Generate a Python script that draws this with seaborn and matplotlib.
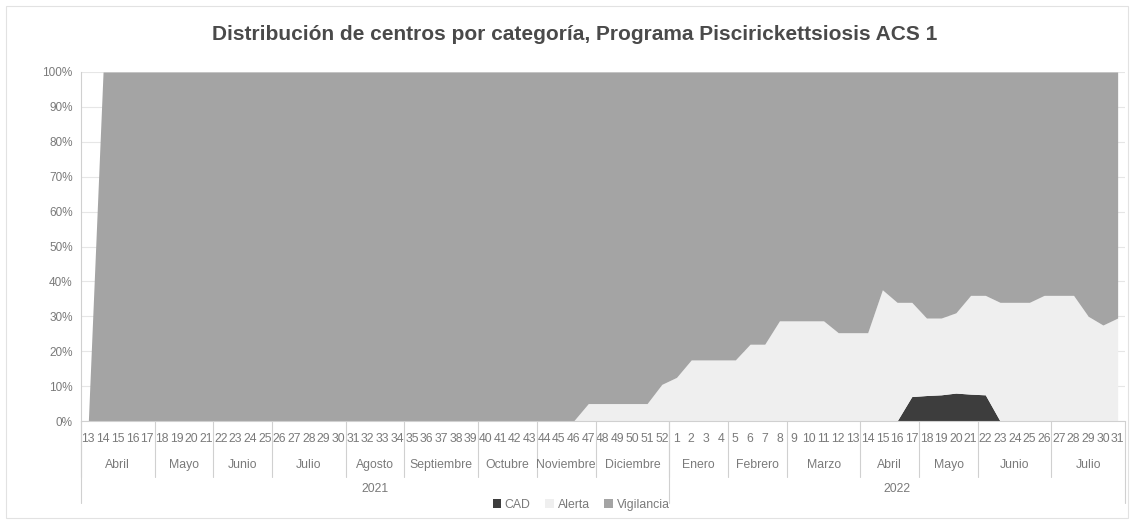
import numpy as np
import matplotlib
matplotlib.use("Agg")
import matplotlib.pyplot as plt
import matplotlib.transforms as mtransforms
from matplotlib.patches import Patch, Rectangle
import seaborn as sns

# semanas del programa (2021: 13-52, 2022: 1-31)
weeks_2021 = list(range(13, 53))
weeks_2022 = list(range(1, 32))
week_labels = [str(w) for w in weeks_2021 + weeks_2022]

# porcentaje de centros por categoria, semana a semana
cad = [0] * 40 + [0] * 16 + [7, 7.3, 7.5, 8, 7.7, 7.5] + [0] * 9

alerta = ([0] * 34 + [5, 5, 5, 5, 5, 10.5]
          + [12.5, 17.5, 17.5, 17.5, 17.5, 22, 22, 28.7, 28.7, 28.7, 28.7,
             25.3, 25.3, 25.3, 37.6, 34, 27, 22.2, 22, 23, 28.3, 28.5,
             34, 34, 34, 36, 36, 36, 30, 27.5, 29.5])

vigilancia = ([0] + [100] * 33 + [95, 95, 95, 95, 95, 89.5]
              + [87.5, 82.5, 82.5, 82.5, 82.5, 78, 78, 71.3, 71.3, 71.3, 71.3,
                 74.7, 74.7, 74.7, 62.4, 66, 66, 70.5, 70.5, 69, 64, 64,
                 66, 66, 66, 64, 64, 64, 70, 72.5, 70.5])

# meses (nombre, cantidad de semanas)
months_2021 = [("Abril", 5), ("Mayo", 4), ("Junio", 4), ("Julio", 5), ("Agosto", 4),
               ("Septiembre", 5), ("Octubre", 4), ("Noviembre", 4), ("Diciembre", 5)]
months_2022 = [("Enero", 4), ("Febrero", 4), ("Marzo", 5), ("Abril", 4), ("Mayo", 4),
               ("Junio", 5), ("Julio", 5)]
years = [("2021", len(weeks_2021)), ("2022", len(weeks_2022))]

series_names = ["CAD", "Alerta", "Vigilancia"]
colors = ["#3d3d3d", "#efefef", "#a4a4a4"]
text_gray = "#7a7a7a"
line_gray = "#d0d0d0"

sns.set_style("white")
plt.rcParams["font.family"] = ["Liberation Sans", "DejaVu Sans"]

fig = plt.figure(figsize=(11.34, 5.22), dpi=100)
ax = fig.add_axes([81 / 1134, 1 - 421 / 522, (1125 - 81) / 1134, (421 - 72) / 522])

x = np.arange(len(week_labels))
ax.yaxis.grid(True, color="#e6e6e6", linewidth=0.8, zorder=0)
ax.stackplot(x, cad, alerta, vigilancia, colors=colors, zorder=2, linewidth=0)

ax.set_xlim(-0.5, len(x) - 0.5)
ax.set_ylim(0, 100)
ax.set_yticks(range(0, 101, 10))
ax.set_yticklabels([f"{v}%" for v in range(0, 101, 10)], fontsize=8.5, color=text_gray)
ax.set_xticks(x)
ax.set_xticklabels(week_labels, fontsize=8.8, color=text_gray)
ax.set_xticks(np.arange(-0.5, len(x), 1), minor=True)
ax.tick_params(axis="x", which="major", length=0, pad=9)
ax.tick_params(axis="x", which="minor", length=6.5, color=line_gray, width=0.8)
ax.tick_params(axis="y", length=0, pad=6)
sns.despine(ax=ax, top=True, right=True)
ax.spines["left"].set_color(line_gray)
ax.spines["bottom"].set_color(line_gray)

trans = mtransforms.blended_transform_factory(ax.transData, ax.transAxes)

# niveles de meses y años bajo el eje
start = -0.5
for name, n in months_2021 + months_2022:
    ax.text(start + n / 2, -0.126, name, transform=trans, ha="center", va="center",
            fontsize=8.8, color=text_gray)
    ax.plot([start, start], [0, -0.16], transform=trans, color=line_gray,
            linewidth=0.8, clip_on=False)
    start += n
start = -0.5
for name, n in years:
    ax.text(start + n / 2, -0.195, name, transform=trans, ha="center", va="center",
            fontsize=8.8, color=text_gray)
    ax.plot([start, start], [0, -0.235], transform=trans, color=line_gray,
            linewidth=0.8, clip_on=False)
    start += n
ax.plot([start, start], [0, -0.235], transform=trans, color=line_gray,
        linewidth=0.8, clip_on=False)

fig.text(575 / 1134, 1 - 34 / 522,
         "Distribución de centros por categoría, Programa Piscirickettsiosis ACS 1",
         ha="center", va="center", fontsize=15, fontweight="bold", color="#4a4a4a")

handles = [Patch(facecolor=c, edgecolor="none") for c in colors]
fig.legend(handles, series_names, loc="center", bbox_to_anchor=(581 / 1134, 1 - 505 / 522),
           ncol=3, frameon=False, fontsize=8.8, handlelength=0.7, handleheight=0.7,
           handletextpad=0.3, columnspacing=1.2, labelcolor=text_gray)

fig.patches.append(Rectangle((6 / 1134, 4 / 522), 1122 / 1134, 512 / 522,
                             transform=fig.transFigure, fill=False,
                             edgecolor="#e2e2e2", linewidth=0.8))

fig.savefig("out.png", dpi=100)
